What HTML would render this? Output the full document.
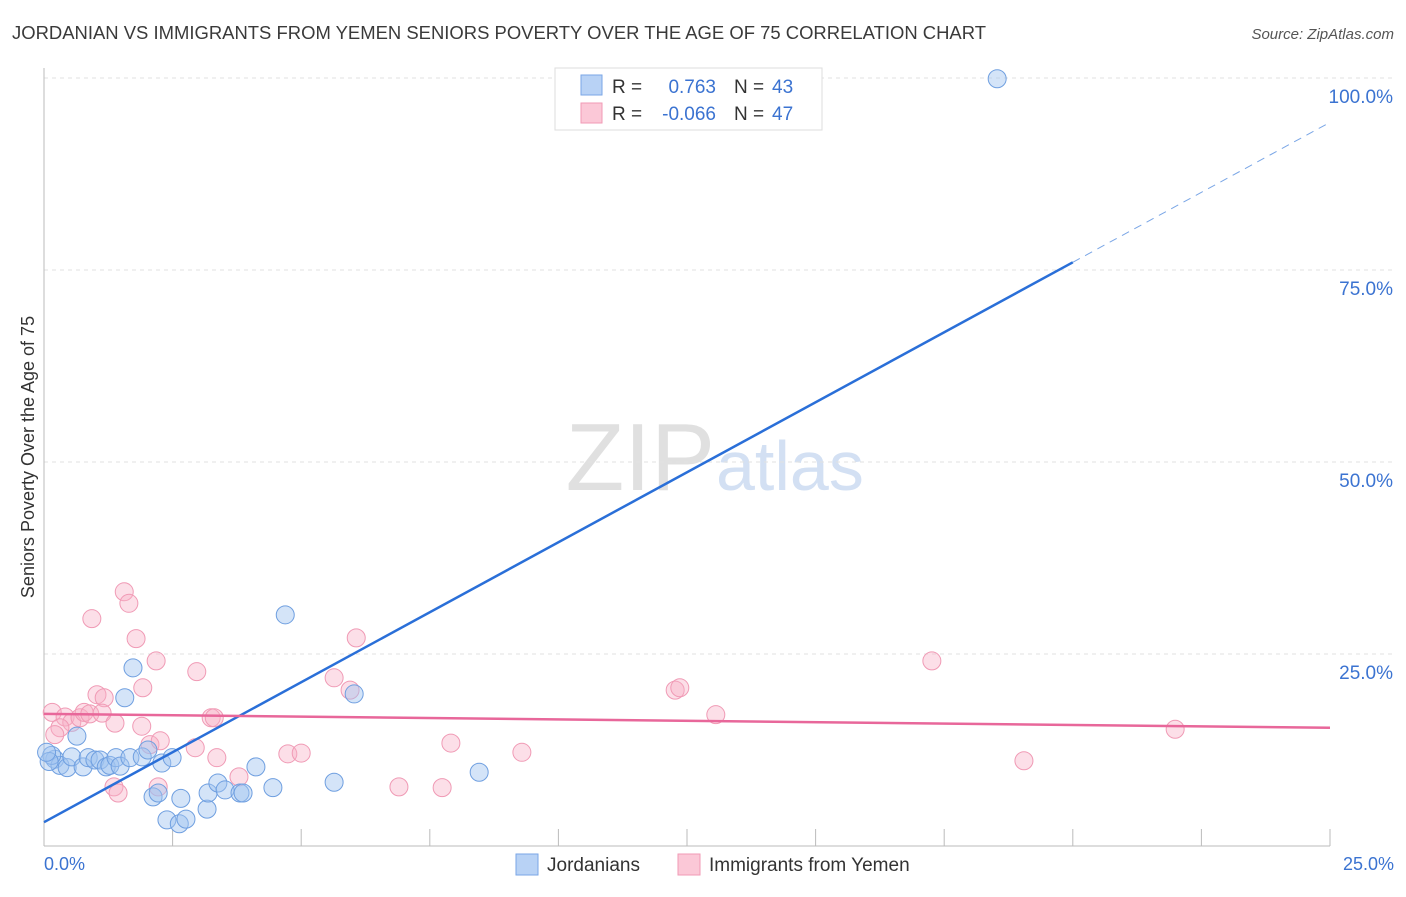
<!DOCTYPE html>
<html><head><meta charset="utf-8"><style>
body{margin:0;background:#fff;font-family:"Liberation Sans",sans-serif;}
svg text{font-family:"Liberation Sans",sans-serif;}
</style></head><body>
<svg id="c" width="1406" height="892" xmlns="http://www.w3.org/2000/svg">
<text x="12" y="39" font-size="18" fill="#3a3a3a" textLength="974" lengthAdjust="spacingAndGlyphs">JORDANIAN VS IMMIGRANTS FROM YEMEN SENIORS POVERTY OVER THE AGE OF 75 CORRELATION CHART</text>
<text x="1394" y="39" font-size="15" fill="#555" font-style="italic" text-anchor="end">Source: ZipAtlas.com</text>
<text x="715" y="490" font-size="96" fill="#e0e0e0" text-anchor="end" font-family="Liberation Serif,serif">ZIP</text>
<text x="716" y="490" font-size="70" fill="#d3e0f3">atlas</text>
<g id="grid"></g>
<line x1="44" y1="68" x2="44" y2="846" stroke="#bbb"/>
<line x1="44" y1="846" x2="1330" y2="846" stroke="#bbb"/>
<text x="34" y="457" font-size="18" fill="#333" text-anchor="middle" transform="rotate(-90 34 457)">Seniors Poverty Over the Age of 75</text>
<text x="44" y="870" font-size="18" fill="#3b73d1">0.0%</text>
<text x="1394" y="870" font-size="18" fill="#3b73d1" text-anchor="end">25.0%</text>
<g id="pts"></g>
<g id="lines"></g>
<g>
<rect x="555" y="68" width="267" height="62" fill="#fff" stroke="#ddd"/>
<rect x="581" y="75" width="21" height="20" fill="#b8d2f5" stroke="#7aa6e6"/>
<rect x="581" y="103" width="21" height="20" fill="#fbc8d7" stroke="#f09ab5"/>
<text x="612" y="93" font-size="19" fill="#333">R =</text>
<text x="716" y="93" font-size="19" fill="#3b73d1" text-anchor="end">0.763</text>
<text x="734" y="93" font-size="19" fill="#333">N =</text>
<text x="772" y="93" font-size="19" fill="#3b73d1">43</text>
<text x="612" y="120" font-size="19" fill="#333">R =</text>
<text x="716" y="120" font-size="19" fill="#3b73d1" text-anchor="end">-0.066</text>
<text x="734" y="120" font-size="19" fill="#333">N =</text>
<text x="772" y="120" font-size="19" fill="#3b73d1">47</text>
</g>
<g>
<rect x="516" y="854" width="22" height="21" fill="#b8d2f5" stroke="#7aa6e6"/>
<text x="547" y="871" font-size="19" fill="#333">Jordanians</text></g>
<g>
<rect x="678" y="854" width="22" height="21" fill="#fbc8d7" stroke="#f09ab5"/>
<text x="709" y="871" font-size="19" fill="#333">Immigrants from Yemen</text></g>
</svg>
<script>
const yTicks=[25,50,75,100];
const xTicks=[2.5,5,7.5,10,12.5,15,17.5,20,22.5,25];
const blueX=[18.53,4.69,6.03,1.73,1.57,0.64,0.21,0.31,0.45,0.54,0.76,0.86,0.99,1.09,1.21,1.28,1.40,1.48,1.67,1.91,2.02,2.29,2.49,2.12,2.22,2.66,2.39,2.63,2.76,3.17,3.19,3.38,3.52,3.81,3.87,4.12,4.45,5.64,8.46,0.15,0.1,0.05];
const blueY=[99.9,30.1,19.8,23.2,19.3,14.3,11.3,10.5,10.2,11.6,10.3,11.5,11.2,11.2,10.3,10.5,11.5,10.4,11.5,11.6,12.5,10.8,11.5,6.4,6.9,6.2,3.4,2.9,3.5,4.8,6.9,8.2,7.3,6.9,6.9,10.3,7.6,8.3,9.6,11.8,11.0,12.2];
const pinkX=[1.56,1.65,0.93,1.79,2.18,1.92,2.97,1.03,1.17,0.16,0.41,0.54,0.70,0.78,0.89,1.13,1.38,1.90,0.31,0.21,2.06,2.26,1.36,1.44,2.22,2.94,3.25,3.31,3.36,3.79,4.74,5.00,5.64,5.95,6.07,6.90,7.74,7.91,9.29,12.27,12.36,13.06,17.26,19.05,21.99];
const pinkY=[33.1,31.6,29.6,27.0,24.1,20.6,22.7,19.7,19.3,17.4,16.8,16.1,16.7,17.4,17.2,17.3,16.0,15.6,15.4,14.5,13.2,13.7,7.7,6.9,7.7,12.8,16.7,16.7,11.5,9.0,12.0,12.1,21.9,20.3,27.1,7.7,7.6,13.4,12.2,20.3,20.6,17.1,24.1,11.1,15.2];
const blueTrend=[3.1,76.0];   // y at x=0 and x=20
const pinkTrend=[17.2,15.4];  // y at x=0 and x=25
const X=v=>44+v/25*1286, Y=v=>846-v/100*768;
const NS="http://www.w3.org/2000/svg";
function mk(t,a,p){const e=document.createElementNS(NS,t);for(const k in a)e.setAttribute(k,a[k]);p.appendChild(e);return e;}
const grid=document.getElementById('grid');
yTicks.forEach(t=>{
 const l=mk('line',{x1:44,x2:1393,y1:Y(t),y2:Y(t),stroke:'#e2e2e2','stroke-dasharray':'4,4'},grid);
 
 
 const tx=mk('text',{x:1393,y:Y(t)+25,'font-size':19,fill:'#3b73d1','text-anchor':'end'},grid);
 tx.textContent=t.toFixed(1)+'%';
 
 
});
xTicks.forEach(t=>{
 const l=mk('line',{x1:X(t),x2:X(t),y1:829,y2:846,stroke:'#bbb'},grid);
 
 
});
const pts=document.getElementById('pts');
pinkX.forEach((v,i)=>{
 const c=mk('circle',{cx:X(v),cy:Y(pinkY[i]),r:9,fill:'rgba(248,176,198,0.4)',stroke:'#f09ab5','stroke-width':1},pts);
 
 
});
blueX.forEach((v,i)=>{
 const c=mk('circle',{cx:X(v),cy:Y(blueY[i]),r:9,fill:'rgba(160,196,240,0.45)',stroke:'#6f9fe0','stroke-width':1},pts);
 
 
});
const lines=document.getElementById('lines');
const slope=(blueTrend[1]-blueTrend[0])/20;
let l1=mk('line',{x1:X(0),y1:Y(blueTrend[0]),x2:X(20),y2:Y(blueTrend[1]),stroke:'#2a6fd8','stroke-width':2.5},lines);


let l2=mk('line',{x1:X(20),y1:Y(blueTrend[1]),x2:X(25),y2:Y(blueTrend[0]+slope*25),stroke:'#7aa6e6','stroke-width':1,'stroke-dasharray':'8,6'},lines);


let l3=mk('line',{x1:X(0),y1:Y(pinkTrend[0]),x2:X(25),y2:Y(pinkTrend[1]),stroke:'#e8679a','stroke-width':2.5},lines);


</script>
</body></html>
